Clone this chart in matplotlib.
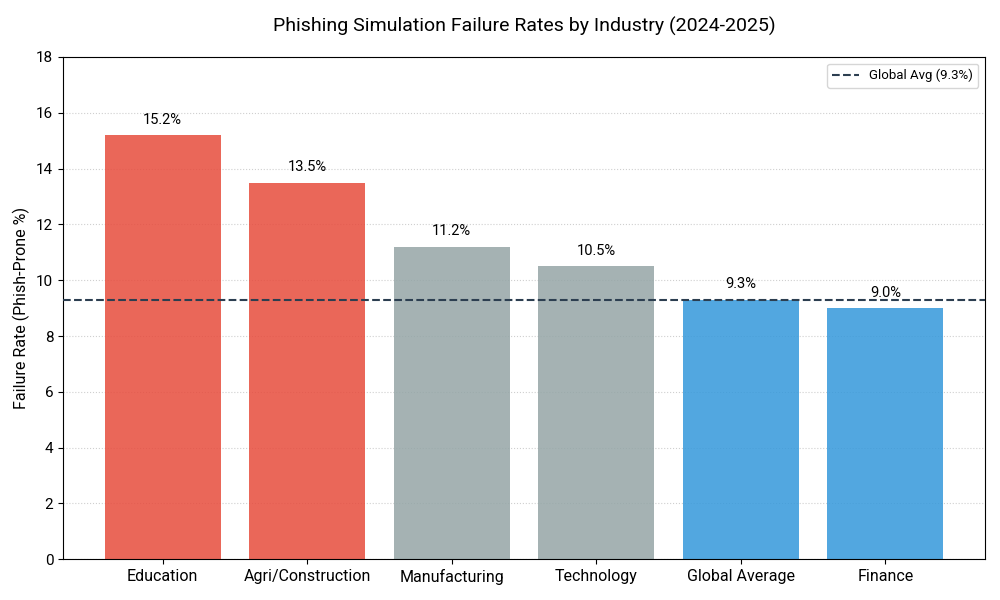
import matplotlib
matplotlib.use("Agg")
import matplotlib.pyplot as plt

plt.rcParams['font.family'] = ['Roboto', 'DejaVu Sans']

industries = ["Education", "Agri/Construction", "Manufacturing", "Technology", "Global Average", "Finance"]
rates = [15.2, 13.5, 11.2, 10.5, 9.3, 9.0]
colors = ["#e74c3c", "#e74c3c", "#95a5a6", "#95a5a6", "#3498db", "#3498db"]
global_avg = 9.3

fig, ax = plt.subplots(figsize=(10, 6), dpi=100)
fig.subplots_adjust(left=0.063, right=0.985, top=0.905, bottom=0.068)

bars = ax.bar(industries, rates, color=colors, alpha=0.85, width=0.8, zorder=2)
ax.axhline(global_avg, color="#2c3e50", linestyle="--", linewidth=1.5,
           label=f"Global Avg ({global_avg}%)", zorder=3)

for b, v in zip(bars, rates):
    ax.text(b.get_x() + b.get_width() / 2, v + 0.3, f"{v:.1f}%",
            ha="center", va="bottom", fontsize=10.5)

ax.set_ylim(0, 18)
ax.set_yticks(range(0, 19, 2))
ax.set_ylabel("Failure Rate (Phish-Prone %)", fontsize=11.5)
ax.set_title("Phishing Simulation Failure Rates by Industry (2024-2025)", fontsize=14, pad=18)
ax.grid(axis="y", linestyle=":", alpha=0.6, zorder=0)
ax.tick_params(axis="x", labelsize=11.5)
ax.tick_params(axis="y", labelsize=11)
ax.legend(loc="upper right", fontsize=9.5)

fig.savefig("out.png", dpi=100)
